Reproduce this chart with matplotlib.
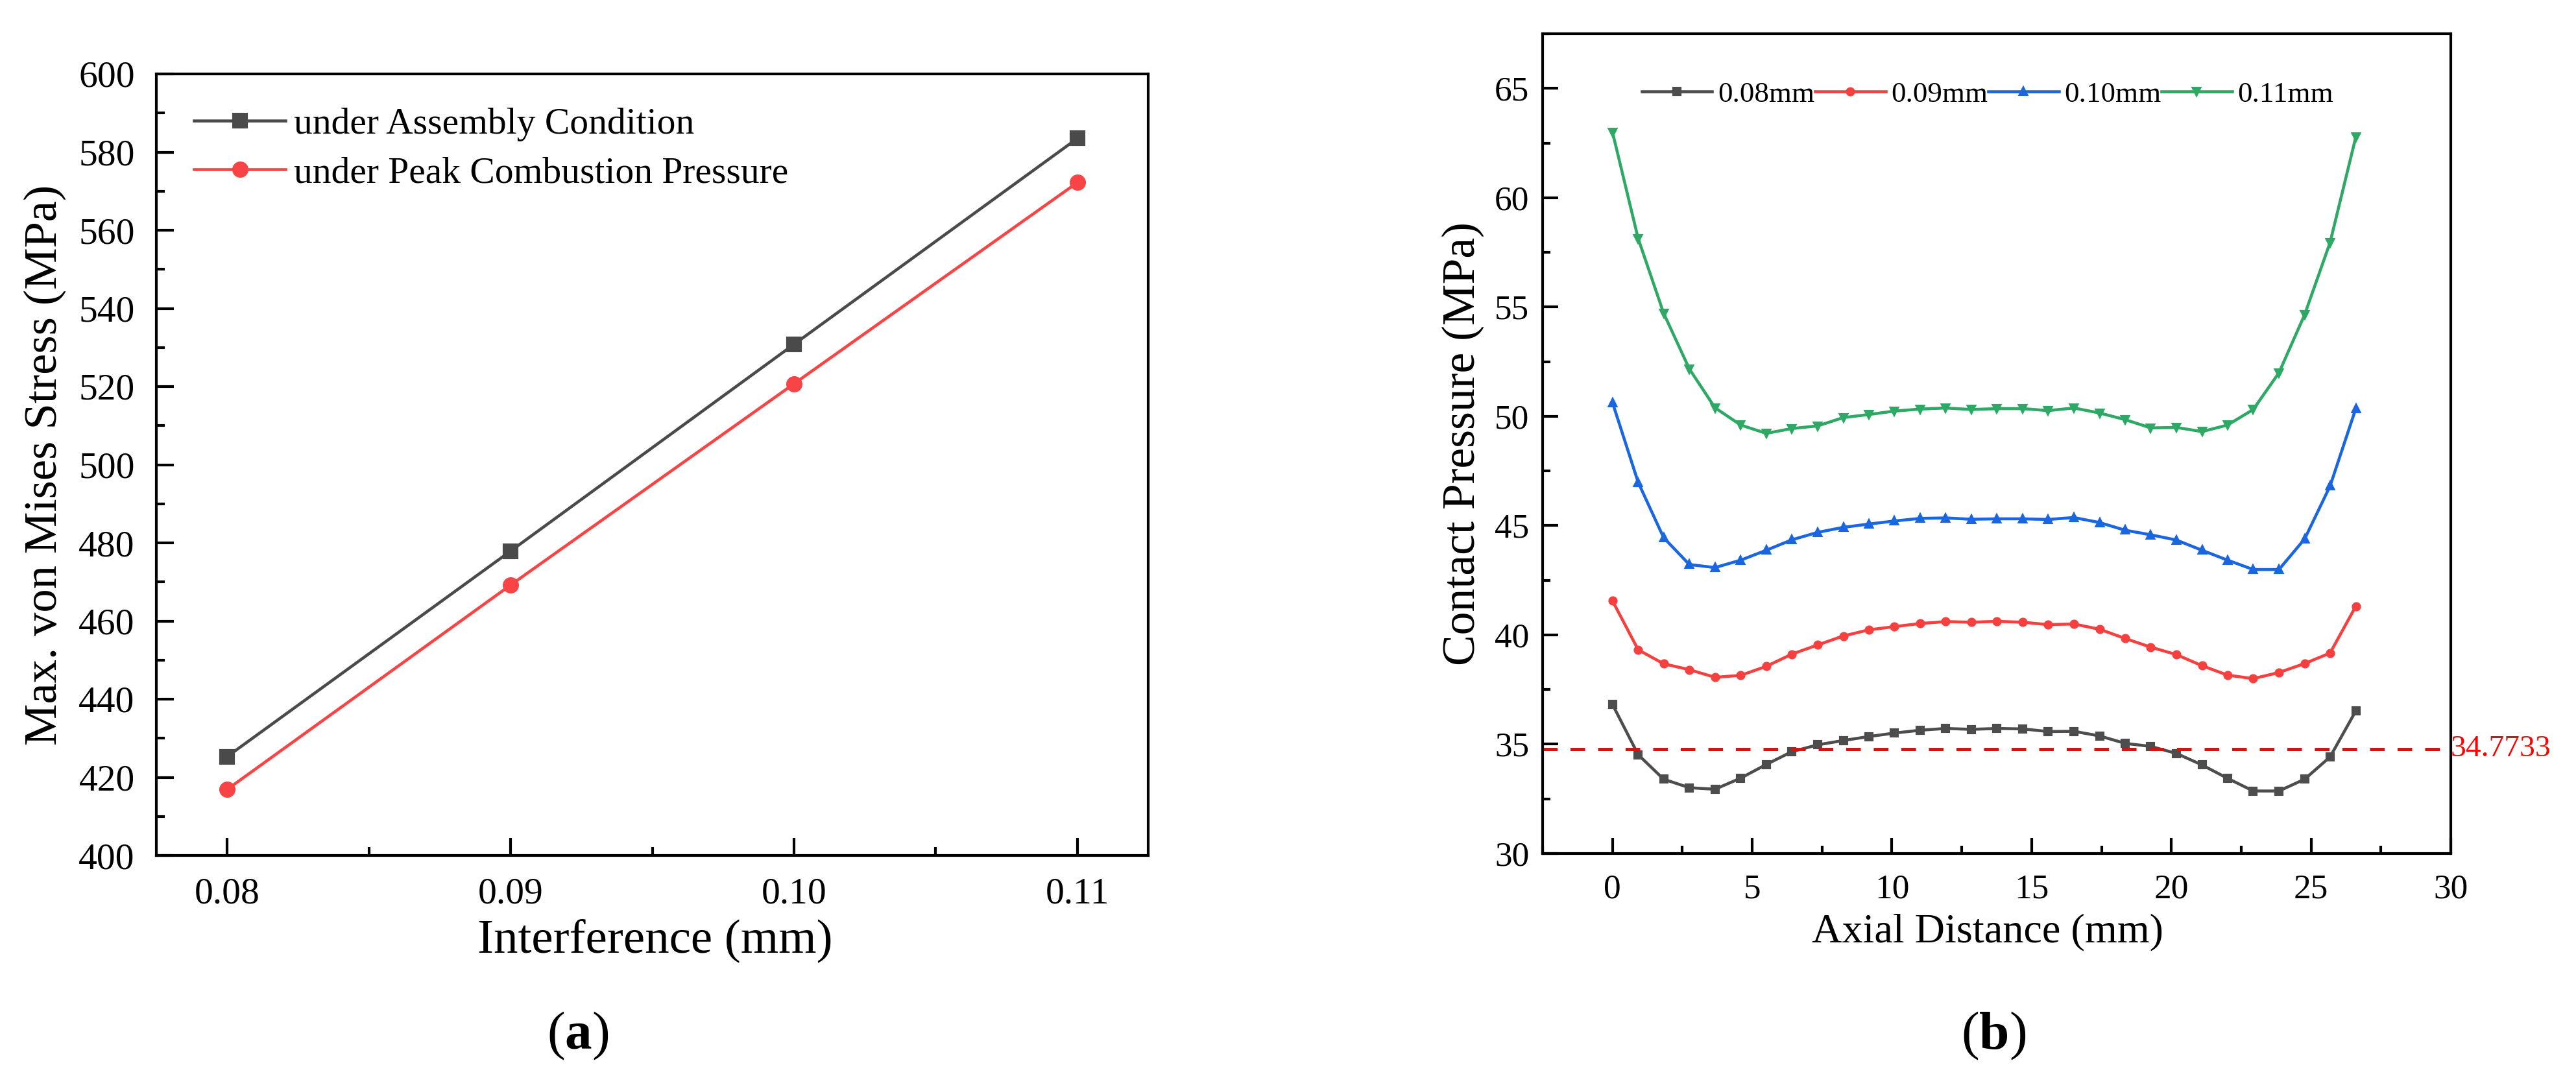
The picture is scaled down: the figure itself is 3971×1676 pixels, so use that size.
import matplotlib
matplotlib.use("Agg")
import matplotlib.pyplot as plt
from matplotlib.ticker import MultipleLocator, FormatStrFormatter

plt.rcParams['font.family'] = ['Liberation Serif', 'DejaVu Serif']
plt.rcParams['mathtext.fontset'] = 'custom'
plt.rcParams['mathtext.rm'] = 'Liberation Serif'
plt.rcParams['mathtext.bf'] = 'Liberation Serif:bold'

# ---------------- data: panel (a) ----------------
interference = [0.08, 0.09, 0.10, 0.11]
stress_assembly = [425.3, 477.9, 530.8, 583.5]
stress_peak = [416.9, 469.2, 520.7, 572.2]
labels_a = ["under Assembly Condition", "under Peak Combustion Pressure"]

# ---------------- data: panel (b) ----------------
axial_distance = [0.00, 0.92, 1.83, 2.75, 3.67, 4.59, 5.50, 6.42, 7.34, 8.26,
                  9.17, 10.09, 11.01, 11.92, 12.84, 13.76, 14.68, 15.59, 16.51, 17.43,
                  18.34, 19.26, 20.18, 21.10, 22.01, 22.93, 23.85, 24.77, 25.68, 26.60]
p_008 = [36.82, 34.52, 33.40, 33.01, 32.94, 33.45, 34.07, 34.66, 34.97, 35.17,
         35.35, 35.51, 35.64, 35.72, 35.68, 35.72, 35.70, 35.58, 35.59, 35.38,
         35.04, 34.90, 34.58, 34.05, 33.44, 32.86, 32.86, 33.40, 34.42, 36.52]
p_009 = [41.56, 39.32, 38.68, 38.41, 38.06, 38.15, 38.56, 39.12, 39.54, 39.95,
         40.23, 40.38, 40.52, 40.61, 40.58, 40.62, 40.58, 40.47, 40.50, 40.26,
         39.84, 39.44, 39.10, 38.59, 38.16, 38.00, 38.28, 38.69, 39.17, 41.31]
p_010 = [50.63, 46.98, 44.45, 43.22, 43.08, 43.42, 43.87, 44.35, 44.69, 44.92,
         45.07, 45.21, 45.33, 45.35, 45.29, 45.31, 45.31, 45.28, 45.37, 45.14,
         44.79, 44.58, 44.34, 43.87, 43.42, 42.99, 42.99, 44.39, 46.81, 50.35]
p_011 = [63.00, 58.13, 54.72, 52.17, 50.39, 49.60, 49.22, 49.44, 49.56, 49.94,
         50.08, 50.24, 50.33, 50.38, 50.31, 50.35, 50.35, 50.26, 50.38, 50.15,
         49.85, 49.47, 49.49, 49.30, 49.60, 50.31, 51.99, 54.65, 57.95, 62.77]
labels_b = ["0.08mm", "0.09mm", "0.10mm", "0.11mm"]
threshold = 34.7733

W, H = 3971, 1676
DPI = 300
fig = plt.figure(figsize=(W / DPI, H / DPI), dpi=DPI)

def frac(x0, y0, x1, y1):
    return [x0 / W, 1 - y1 / H, (x1 - x0) / W, (y1 - y0) / H]

# ---------------- panel (a) ----------------
ax1 = fig.add_axes(frac(241, 114, 1770, 1319))
ax1.plot(interference, stress_assembly, color='#4a4a4a', lw=1.1, marker='s',
         ms=4.6, label=labels_a[0])
ax1.plot(interference, stress_peak, color='#f84444', lw=1.1, marker='o',
         ms=5.0, label=labels_a[1])
ax1.set_xlim(0.0775, 0.1125)
ax1.set_ylim(400, 600)
ax1.xaxis.set_major_locator(MultipleLocator(0.01))
ax1.xaxis.set_minor_locator(MultipleLocator(0.005))
ax1.xaxis.set_major_formatter(FormatStrFormatter('%.2f'))
ax1.yaxis.set_major_locator(MultipleLocator(20))
ax1.yaxis.set_minor_locator(MultipleLocator(10))
ax1.tick_params(which='both', direction='in', top=False, right=False, width=1.0)
ax1.tick_params(which='major', length=6.5, labelsize=13.8, pad=8)
ax1.tick_params(which='minor', length=3.2)
for s in ax1.spines.values():
    s.set_linewidth(1.0)
ax1.set_xlabel("Interference (mm)", fontsize=18, va='center')
ax1.xaxis.set_label_coords(0.503, -0.109)
ax1.set_ylabel("Max. von Mises Stress (MPa)", fontsize=17.4, va='center')
ax1.yaxis.set_label_coords(-0.112, 0.5)
ax1.legend(loc='upper left', bbox_to_anchor=(0.038, 0.957), frameon=False,
           fontsize=13.8, handlelength=2.45, handletextpad=0.23, labelspacing=0.4,
           borderpad=0, borderaxespad=0)

# ---------------- panel (b) ----------------
ax2 = fig.add_axes(frac(2378, 52, 3778, 1316))
series = [(p_008, '#4d4d4d', 's'), (p_009, '#f5403f', 'o'),
          (p_010, '#1a66e0', '^'), (p_011, '#2ea865', 'v')]
for (vals, col, mk), lab in zip(series, labels_b):
    ax2.plot(axial_distance, vals, color=col, lw=1.1, marker=mk, ms=2.4, label=lab)
ax2.axhline(threshold, color='#ff0000', lw=1.2, ls=(0, (4.5, 4.0)))
ax2.text(1.0, threshold, "34.7733", transform=ax2.get_yaxis_transform(),
         color='#ff0000', fontsize=11.4, ha='left', va='center')
ax2.set_xlim(-2.5, 30)
ax2.set_ylim(30, 67.5)
ax2.xaxis.set_major_locator(MultipleLocator(5))
ax2.xaxis.set_minor_locator(MultipleLocator(2.5))
ax2.yaxis.set_major_locator(MultipleLocator(5))
ax2.yaxis.set_minor_locator(MultipleLocator(2.5))
ax2.tick_params(which='both', direction='in', top=False, right=False, width=1.0)
ax2.tick_params(which='major', length=5.8, labelsize=12.8)
ax2.tick_params(axis='y', which='major', pad=5)
ax2.tick_params(axis='x', which='major', pad=7.5)
ax2.tick_params(which='minor', length=2.8)
for s in ax2.spines.values():
    s.set_linewidth(1.0)
ax2.set_xlabel("Axial Distance (mm)", fontsize=15.4, va='center')
ax2.xaxis.set_label_coords(0.49, -0.096)
ax2.set_ylabel("Contact Pressure (MPa)", fontsize=17.2, va='center')
ax2.yaxis.set_label_coords(-0.088, 0.5)
ax2.legend(loc='center', bbox_to_anchor=(0.49, 0.926), frameon=False, ncol=4,
           fontsize=10.8, handlelength=2.42, handletextpad=0.2, columnspacing=0.0,
           borderpad=0, borderaxespad=0)

# ---------------- panel captions ----------------
fig.text(891 / W, 1 - 1597 / H, r"($\mathbf{a}$)", fontsize=20, ha='center', va='center')
fig.text(3073 / W, 1 - 1597 / H, r"($\mathbf{b}$)", fontsize=20, ha='center', va='center')

fig.savefig("out.png", dpi=DPI)
